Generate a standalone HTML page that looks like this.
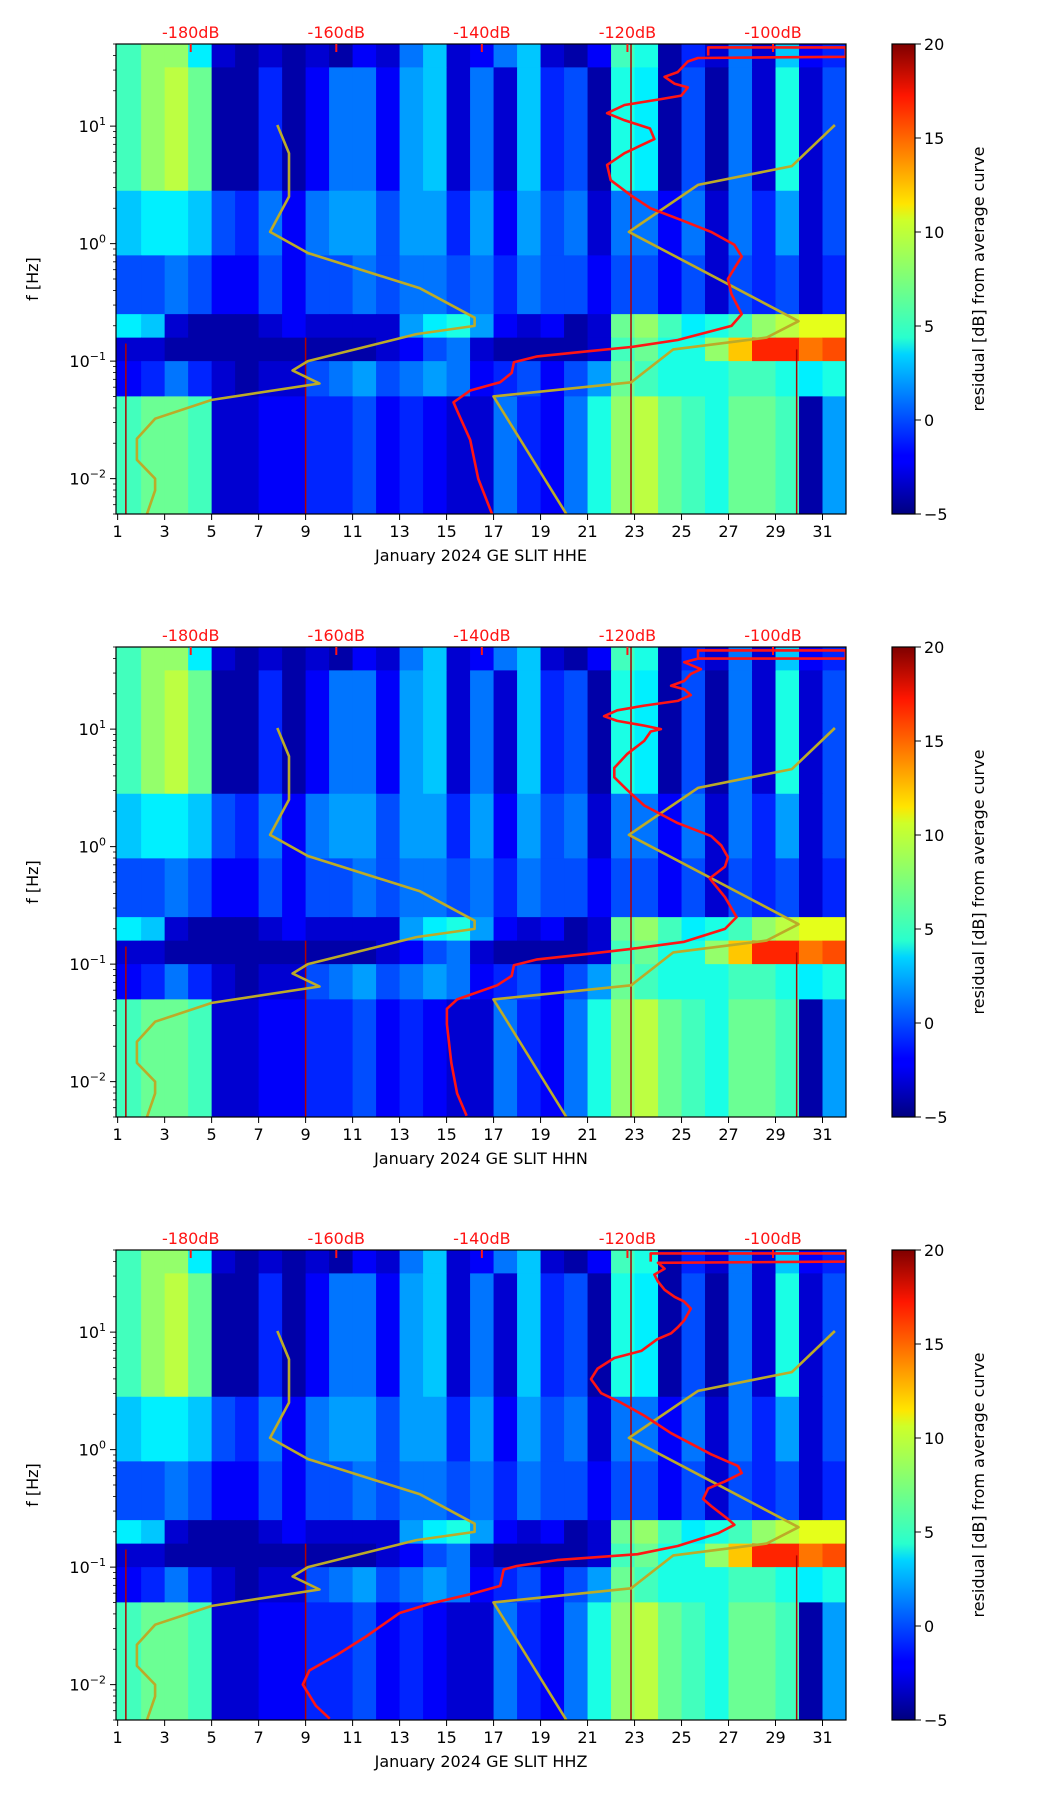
<!DOCTYPE html>
<html><head><meta charset="utf-8">
<style>
html,body{margin:0;padding:0;background:#fff;}
svg{display:block;font-family:"DejaVu Sans","Liberation Sans",sans-serif;}
</style></head>
<body>
<svg id="fig" width="1052" height="1806" viewBox="0 0 1052 1806" xmlns="http://www.w3.org/2000/svg">
<defs>
<linearGradient id="jet" x1="0" y1="1" x2="0" y2="0">
<stop offset="0" stop-color="#00007f"/><stop offset="0.11" stop-color="#0000ff"/><stop offset="0.125" stop-color="#0000ff"/>
<stop offset="0.34" stop-color="#00d4ff"/><stop offset="0.375" stop-color="#29ffce"/><stop offset="0.5" stop-color="#7dff7a"/>
<stop offset="0.625" stop-color="#ceff29"/><stop offset="0.66" stop-color="#ffe500"/><stop offset="0.89" stop-color="#ff1600"/><stop offset="1" stop-color="#7f0000"/>
</linearGradient>
</defs>
</svg>
<script>
// ---- data ----
const days = [1,2,3,4,5,6,7,8,9,10,11,12,13,14,15,16,17,18,19,20,21,22,23,24,25,26,27,28,29,30,31];
// frequency band edges (log10 Hz), top to bottom
const bandTop = [1.7, 1.5, 0.45, -0.1, -0.6, -0.8, -1.0, -1.3];
const bandBot = [1.5, 0.45, -0.1, -0.6, -0.8, -1.0, -1.3, -2.31];
// residual dB per band per day
const resA = [6,8,8,4,-3,-4,-3,-4,-3,-4,-2,-3,1,3,-3,-2,1,3,-3,-4,-2,6,5,-4,-1,-3,1,-3,3,-2,-1];
const resB = [6,8,9,7,-4,-4,-1,-4,-2,1,1,-2,2,3,-3,1,-3,3,-1,0,-4,5,4,-4,0,-4,1,-3,5,-3,0];
const resC = [3,4,4,3,0,-1,1,-2,1,2,2,0,2,2,-1,2,-2,2,0,1,-3,1,1,-2,1,-3,1,-1,2,-3,0];
const resD = [0,0,1,0,-2,-2,0,-2,0,0,1,0,1,1,0,1,-1,1,0,0,-2,0,0,-2,0,-3,0,-1,0,-3,-1];
const resE = [4,3,-3,-4,-4,-4,-3,-2,-3,-3,-3,-3,2,4,5,2,-2,-3,-2,-4,-3,7,8,6,4,5,6,8,9,10,10];
const resF = [-3,-3,-4,-4,-4,-4,-4,-4,-4,-4,-4,-3,-2,0,1,-3,-4,-4,-4,-4,-3,6,7,5,5,8,12,16,16,14,15];
const resG = [-2,-1,1,-1,-3,-4,-3,-3,0,1,2,0,1,2,1,-2,-1,0,-2,0,2,7,6,5,5,5,6,6,5,4,5];
const resH = [6,7,7,6,-3,-3,-2,-2,-1,-1,0,-2,-1,-2,-3,-3,1,-1,-2,1,5,8,9,7,6,5,7,7,6,-4,2];
const bands = [resA,resB,resC,resD,resE,resF,resG,resH];
const spikeDays = [1.35, 9.0, 22.85, 29.9];
const spikeTop = [-0.85, -0.8, 1.7, -0.9];
// noise models (dB, log10 f)
const nlnmDb = [-186.0,-184.9,-184.9,-187.4,-187.4,-184.9,-177.1,-162.3,-166.0,-163.9,-149.0,-141.0,-141.0,-148.5,-163.9,-169.1,-166.5,-166.5,-168.1];
const nlnmF  = [-2.30,-2.10,-2.00,-1.84,-1.66,-1.49,-1.33,-1.19,-1.08,-1.00,-0.77,-0.70,-0.63,-0.38,-0.08,0.10,0.40,0.77,1.01];
const nhnmDb = [-128.4,-138.4,-119.5,-113.7,-100.9,-96.5,-119.8,-110.3,-97.4,-91.5];
const nhnmF  = [-2.30,-1.30,-1.18,-0.90,-0.80,-0.66,0.10,0.50,0.66,1.01];
// average curves per channel
const heDb = [-138.6,-140.5,-141.6,-143.2,-143.9,-141.6,-137.5,-135.9,-135.6,-132.4,-126.0,-119.5,-113.1,-105.7,-104.3,-105.7,-106.2,-105.3,-104.3,-105.3,-108.5,-112.6,-116.8,-119.5,-122.3,-122.8,-120.4,-116.3,-116.9,-120.4,-122.8,-120.4,-115.4,-112.6,-111.7,-113.5,-114.9,-113.1,-111.7,-110.3,-90,-90,-108.9,-108.9];
const heF  = [-2.30,-2.00,-1.67,-1.45,-1.35,-1.25,-1.18,-1.10,-1.01,-0.96,-0.92,-0.88,-0.82,-0.70,-0.60,-0.43,-0.30,-0.21,-0.11,-0.01,0.10,0.20,0.30,0.41,0.54,0.67,0.77,0.89,0.98,1.05,1.11,1.18,1.23,1.26,1.33,1.36,1.42,1.46,1.55,1.58,1.59,1.67,1.67,1.60];
const hnDb = [-142.1,-143.4,-144.2,-144.8,-144.8,-143.4,-137.9,-135.9,-135.6,-132.4,-125.0,-119.5,-112.2,-106.6,-105.0,-106.6,-108.7,-106.6,-106.2,-107.1,-108.5,-113.1,-117.7,-120.0,-121.8,-121.8,-120.0,-117.7,-116.8,-115.4,-117.7,-121.4,-123.2,-121.4,-117.7,-113.1,-111.3,-112.2,-114.0,-112.2,-111.3,-109.9,-112.2,-110.3,-90,-90,-110.3,-110.3];
const hnF  = [-2.29,-2.10,-1.84,-1.51,-1.38,-1.30,-1.18,-1.10,-1.01,-0.96,-0.91,-0.87,-0.81,-0.70,-0.60,-0.43,-0.27,-0.17,-0.09,0.01,0.09,0.20,0.35,0.48,0.59,0.67,0.79,0.90,0.98,1.00,1.03,1.07,1.11,1.16,1.20,1.24,1.29,1.34,1.37,1.41,1.47,1.51,1.57,1.60,1.60,1.67,1.67,1.60];
const hzDb = [-160.9,-162.8,-164.6,-163.7,-160.0,-155.9,-151.3,-147.1,-141.6,-137.5,-137.0,-135.2,-129.7,-118.6,-113.1,-107.5,-105.3,-106.2,-108.5,-109.6,-108.9,-106.6,-104.3,-104.8,-108.5,-114.0,-117.7,-120.9,-123.6,-125.0,-124.1,-121.8,-118.1,-115.9,-114.0,-113.1,-112.2,-111.3,-112.2,-113.5,-114.9,-115.8,-116.3,-114.9,-115.8,-90,-90,-116.8,-116.8];
const hzF  = [-2.29,-2.18,-2.00,-1.88,-1.75,-1.59,-1.39,-1.31,-1.23,-1.16,-1.02,-0.99,-0.94,-0.89,-0.82,-0.71,-0.64,-0.59,-0.48,-0.42,-0.33,-0.27,-0.20,-0.14,-0.04,0.14,0.29,0.40,0.48,0.60,0.69,0.78,0.84,0.94,0.99,1.04,1.10,1.20,1.26,1.30,1.36,1.43,1.49,1.54,1.59,1.60,1.67,1.67,1.60];
const channels = ["HHE","HHN","HHZ"];
const dbTicks = [-180,-160,-140,-120,-100];
const dayTicks = [1,3,5,7,9,11,13,15,17,19,21,23,25,27,29,31];
const cbTicks = [20,15,10,5,0,-5];

// ---- layout / scales ----
const NS="http://www.w3.org/2000/svg";
const svg=document.getElementById('fig');
const L=116,R=846,H=470,XMIN=0.93,XMAX=32,LMAX=Math.log10(50),LMIN=Math.log10(0.005);
const tops=[44,647,1250];
function xs(d){return L+(d-XMIN)/(XMAX-XMIN)*(R-L);}
function dbToDay(db){return 4.11+(db+180)/3.228;}
function mk(tag,attrs,parent){const e=document.createElementNS(NS,tag);for(const k in attrs)e.setAttribute(k,attrs[k]);(parent||svg).appendChild(e);return e;}
function jet(v){let t=(v+5)/25;t=Math.max(0,Math.min(1,t));
 const r=Math.max(0,Math.min(1,1.5-Math.abs(4*t-3))),g=Math.max(0,Math.min(1,1.5-Math.abs(4*t-2))),b=Math.max(0,Math.min(1,1.5-Math.abs(4*t-1)));
 return `rgb(${Math.round(r*255)},${Math.round(g*255)},${Math.round(b*255)})`;}
const curves=[[heDb,heF],[hnDb,hnF],[hzDb,hzF]];

tops.forEach((T,p)=>{
 const ys=lf=>T+(LMAX-lf)/(LMAX-LMIN)*H;
 const g=mk('g',{});
 
 
 const clipId='clip'+p;
 const cp=mk('clipPath',{id:clipId},g);mk('rect',{x:L,y:T,width:R-L,height:H},cp);
 const plot=mk('g',{'clip-path':`url(#${clipId})`},g);
 
 
 bands.forEach((vals,b)=>{
  vals.forEach((v,i)=>{
   const d0=i===0?XMIN:days[i], d1=days[i]+1;
   const r=mk('rect',{x:xs(d0),y:ys(bandTop[b]),width:xs(d1)-xs(d0)+0.5,height:ys(bandBot[b])-ys(bandTop[b])+0.5,fill:jet(v)},plot);
   
   
  });
 });
 spikeDays.forEach((d,i)=>{
  const l=mk('line',{x1:xs(d),x2:xs(d),y1:ys(spikeTop[i]),y2:T+H,stroke:'#b00000','stroke-width':1.5},plot);
  
  
 });
 const poly=(dbA,fA,color,name)=>{
  const pts=dbA.map((db,i)=>xs(dbToDay(db)).toFixed(1)+','+ys(fA[i]).toFixed(1)).join(' ');
  const pl=mk('polyline',{points:pts,fill:'none',stroke:color,'stroke-width':2.6,'stroke-linejoin':'round'},plot);
  
  
 };
 poly(nlnmDb,nlnmF,'#bcab28','nlnm-curve');
 poly(nhnmDb,nhnmF,'#bcab28','nhnm-curve');
 poly(curves[p][0],curves[p][1],'#ff1414','average-curve');
 const fr=mk('rect',{x:L,y:T,width:R-L,height:H,fill:'none',stroke:'#000','stroke-width':1.2},g);
 
 
 dbTicks.forEach(db=>{
  const x=xs(dbToDay(db));
  mk('line',{x1:x,x2:x,y1:T,y2:T+8,stroke:'#ff1414','stroke-width':2},g);
  const t=mk('text',{x:x,y:T-6,'text-anchor':'middle','font-size':16,fill:'#ff1414'},g);
  t.textContent=db+'dB';
  
  
 });
 dayTicks.forEach(d=>{
  const x=xs(d);
  mk('line',{x1:x,x2:x,y1:T+H,y2:T+H+6,stroke:'#000','stroke-width':1},g);
  const t=mk('text',{x:x,y:T+H+23,'text-anchor':'middle','font-size':16,fill:'#000'},g);
  t.textContent=d;
  
  
 });
 const xl=mk('text',{x:(L+R)/2,y:T+H+47,'text-anchor':'middle','font-size':16,fill:'#000','xml:space':'preserve'},g);
 xl.textContent='January 2024 GE SLIT  '+channels[p];
 
 
 for(let e=-3;e<=1;e++){
  for(let m=1;m<=9;m++){
   const lf=e+Math.log10(m);
   if(lf<LMIN-1e-9||lf>LMAX+1e-9)continue;
   const y=ys(lf);
   mk('line',{x1:L,x2:L-(m===1?6:3),y1:y,y2:y,stroke:'#000','stroke-width':m===1?1:0.8},g);
   if(m===1){
    const t=mk('text',{x:L-10,y:y+6,'text-anchor':'end','font-size':16,fill:'#000'},g);
    t.innerHTML='10<tspan dy="-7" font-size="11">'+(e<0?'\u2212':'')+Math.abs(e)+'</tspan>';
    
    
   }
  }
 }
 const yl=mk('text',{x:38,y:T+H/2,'text-anchor':'middle','font-size':16,fill:'#000',transform:`rotate(-90 38 ${T+H/2})`},g);
 yl.textContent='f [Hz]';
 
 
 const cb=mk('rect',{x:892,y:T,width:23,height:H,fill:'url(#jet)',stroke:'#000','stroke-width':1.2},g);
 
 
 cbTicks.forEach(v=>{
  const y=T+(20-v)/25*H;
  mk('line',{x1:915,x2:921,y1:y,y2:y,stroke:'#000','stroke-width':1},g);
  const t=mk('text',{x:924,y:y+6,'font-size':16,fill:'#000'},g);
  t.textContent=v<0?'\u2212'+Math.abs(v):v;
  
  
 });
 const cl=mk('text',{x:984,y:T+H/2,'text-anchor':'middle','font-size':16,fill:'#000',transform:`rotate(-90 984 ${T+H/2})`},g);
 cl.textContent='residual [dB] from average curve';
 
 
});
</script>
</body></html>
